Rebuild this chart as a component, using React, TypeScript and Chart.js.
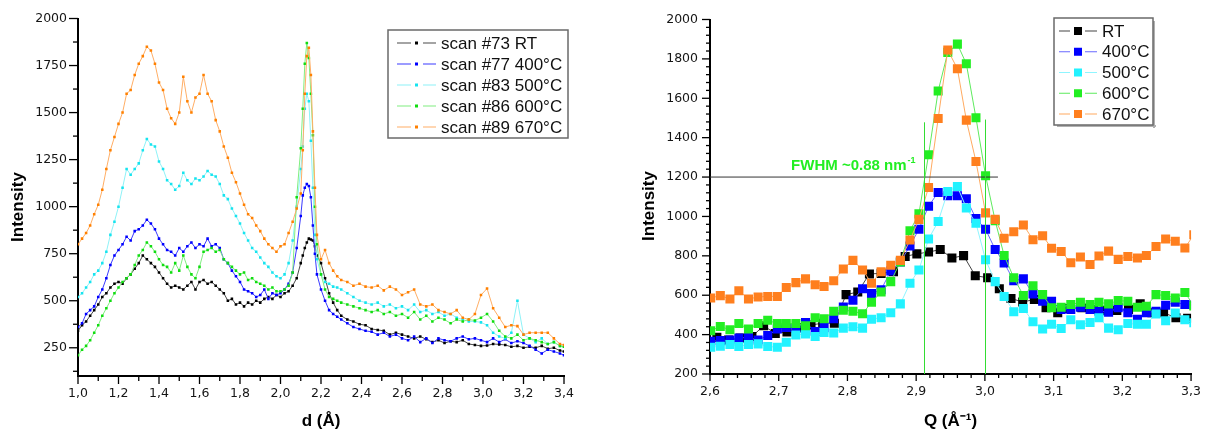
import React, { useEffect, useRef } from 'react';
import { Chart, registerables } from 'chart.js';

Chart.register(...registerables);

// ---------------- Left panel: intensity vs d (Å) ----------------
const D_GRID = [
  1.00, 1.02, 1.04, 1.06, 1.08, 1.10, 1.12, 1.14, 1.16, 1.18, 1.20, 1.22, 1.24, 1.26, 1.28, 1.30, 1.32, 1.34, 1.36, 1.38,
  1.40, 1.42, 1.44, 1.46, 1.48, 1.50, 1.52, 1.54, 1.56, 1.58, 1.60, 1.62, 1.64, 1.66, 1.68, 1.70, 1.72, 1.74, 1.76, 1.78,
  1.80, 1.82, 1.84, 1.86, 1.88, 1.90, 1.92, 1.94, 1.96, 1.98, 2.00,
  2.02, 2.04, 2.06, 2.08, 2.10, 2.11, 2.12, 2.13, 2.14, 2.15, 2.16, 2.17, 2.18, 2.20, 2.22, 2.24, 2.26, 2.28, 2.30,
  2.33, 2.36, 2.39, 2.42, 2.45, 2.48, 2.51, 2.54, 2.57, 2.60, 2.63, 2.66, 2.69, 2.72, 2.75, 2.78, 2.81, 2.84, 2.87, 2.90,
  2.93, 2.96, 2.99, 3.02, 3.05, 3.08, 3.11, 3.14, 3.17, 3.20, 3.23, 3.26, 3.29, 3.32, 3.35, 3.38, 3.40,
];

const SCAN73_RT = [
  340, 370, 390, 420, 450, 480, 520, 540, 570, 590, 600, 590, 620, 640, 670, 700, 740, 720, 700, 680,
  650, 620, 590, 570, 580, 570, 560, 580, 600, 560, 600, 610, 590, 600, 580, 560, 540, 500, 510, 480,
  490, 470, 490, 480, 500, 490, 510, 520, 510, 530, 520,
  540, 550, 580, 620, 700, 740, 780, 810, 830, 825, 820, 790, 740, 700, 620, 540, 490, 450, 420,
  400, 390, 375, 370, 350, 345, 340, 320, 330, 320, 310, 300, 310, 295, 280, 290, 275, 285, 280, 290,
  270, 265, 260, 262, 270, 268, 265, 255, 260, 250, 255, 250, 260, 245, 250, 235, 230,
];
const SCAN77_400 = [
  360, 380, 430, 450, 470, 520, 560, 620, 690, 740, 770, 800, 840, 820, 870, 880, 900, 930, 910, 880,
  830, 800, 770, 760, 740, 780, 760, 790, 810, 780, 800, 790, 830, 790, 800, 780, 720, 700, 660, 630,
  600, 560, 550, 540, 520, 530, 560, 510, 540, 530, 540,
  560, 590, 650, 780, 950, 1060, 1100, 1120, 1110, 1050, 900, 750, 640, 560, 500, 450, 430, 415, 400,
  380, 360, 350, 340, 335, 320, 330, 310, 320, 300, 290, 310, 280, 300, 275, 300, 290, 285, 300, 310,
  295, 300, 290, 280, 300, 280, 295, 275, 285, 275, 260, 240, 220, 240, 230, 220, 210,
];
const SCAN83_500 = [
  520, 540, 570, 600, 640, 660, 700, 760, 850, 920, 1000, 1100, 1200, 1170, 1200, 1230, 1300, 1360, 1330, 1320,
  1240, 1200, 1140, 1120, 1090, 1110, 1180, 1140, 1120, 1150, 1140, 1160, 1190, 1170, 1160, 1120, 1060, 1040, 990, 950,
  910, 860, 820, 780, 760, 730, 700, 680, 650, 630, 620,
  640, 700, 820, 1000, 1200, 1320, 1520, 1600, 1560, 1350, 1100, 850, 720, 640, 600, 590, 575, 570, 560,
  540, 520, 500, 490, 480, 490, 470, 480, 460, 470, 450, 480, 440, 450, 430, 440, 420, 430, 410, 400,
  390, 390, 385, 370, 330, 310, 300, 330, 500, 320, 300, 280, 300, 270, 280, 260, 255,
];
const SCAN86_600 = [
  210, 240, 260, 290, 330, 370, 420, 460, 500, 540, 570, 600, 620, 640, 690, 740, 770, 810, 790, 760,
  720, 690, 680, 650, 700, 660, 740, 680, 640, 620, 680, 760, 770, 780, 760, 770, 720, 700, 680, 660,
  640, 650, 610, 620, 600, 590, 580, 560, 570, 550, 550,
  560, 580, 650, 1050, 1310, 1520, 1760, 1870, 1790, 1600, 1380, 1000, 800, 640, 560, 520, 510, 500, 490,
  480, 470, 460, 450, 440, 450, 430, 440, 420, 430, 410, 440, 400, 420, 390, 410, 400, 380, 400, 390,
  400, 395, 410, 430, 390, 340, 310, 300, 320, 290, 300, 290, 280, 270, 280, 260, 255,
];
const SCAN89_670 = [
  800, 830, 860, 900, 960, 1010, 1090, 1200, 1300, 1370, 1440, 1500, 1600, 1620, 1700, 1760, 1800, 1850, 1830, 1760,
  1660, 1620, 1520, 1470, 1440, 1500, 1690, 1560, 1500, 1580, 1600, 1700, 1600, 1560, 1460, 1400, 1320, 1260, 1180, 1130,
  1070, 1010, 960, 940, 900, 870, 830, 800, 780, 760, 790,
  800, 860, 920, 990, 1070, 1300, 1600, 1800, 1845, 1700, 1400, 1100, 850, 720, 770, 700, 660, 630, 610,
  600, 580, 590, 575, 570, 580, 555, 575, 560, 530, 545, 560, 480, 470, 480, 450, 440, 430, 450, 410,
  400, 430, 530, 565, 460, 410, 360, 370, 365, 320, 330, 330, 330, 330, 300, 270, 265,
];

// ---------------- Right panel: intensity vs Q (Å^-1) ----------------
const Q_RT = [
  2.610, 2.627, 2.644, 2.661, 2.678, 2.695, 2.712, 2.730, 2.747, 2.764, 2.781, 2.798, 2.815, 2.832, 2.849, 2.867, 2.884,
  2.901, 2.918, 2.935, 2.952, 2.969, 2.986, 3.004, 3.021, 3.038, 3.055, 3.072, 3.089, 3.106, 3.123, 3.141, 3.158,
  3.175, 3.192, 3.209, 3.226, 3.243, 3.260, 3.278, 3.295,
];
const RT_Q = [
  386, 373, 383, 390, 445, 406, 414, 435, 449, 458, 458, 603, 616, 708, 711, 719, 797,
  810, 819, 832, 789, 801, 699, 689, 633, 583, 566, 578, 536, 511, 533, 536, 528,
  523, 523, 528, 556, 511, 511, 486, 483,
];
const Q_HT = [
  2.601, 2.615, 2.629, 2.642, 2.656, 2.670, 2.684, 2.698, 2.711, 2.725, 2.739, 2.753, 2.766, 2.780, 2.794, 2.808, 2.822,
  2.835, 2.849, 2.863, 2.877, 2.891, 2.904, 2.918, 2.932, 2.946, 2.960, 2.973, 2.987, 3.001, 3.015, 3.028, 3.042, 3.056,
  3.070, 3.084, 3.097, 3.111, 3.125, 3.139, 3.153, 3.166, 3.180, 3.194, 3.208, 3.222, 3.235, 3.249, 3.263, 3.277,
  3.291, 3.304,
];
const T400_Q = [
  366, 370, 373, 383, 386, 373, 395, 428, 436, 431, 461, 416, 436, 481, 540, 574, 633, 608, 628, 723,
  769, 850, 935, 1052, 1122, 1105, 1105, 1090, 990, 935, 832, 764, 674, 683, 606, 569, 569, 528, 528, 539,
  528, 519, 514, 536, 511, 478, 511, 519, 549, 564, 553, 550,
];
const T500_Q = [
  336, 341, 350, 340, 350, 353, 340, 336, 361, 398, 403, 390, 411, 408, 433, 440, 433, 478, 486, 511,
  556, 661, 728, 885, 974, 1127, 1152, 1043, 965, 780, 669, 594, 516, 533, 465, 428, 453, 431, 475, 450,
  461, 486, 433, 425, 456, 453, 453, 505, 470, 510, 475, 460,
];
const T600_Q = [
  420, 441, 425, 456, 428, 456, 473, 456, 456, 456, 445, 486, 481, 519, 524, 519, 506, 564, 616, 669,
  769, 927, 1013, 1313, 1637, 1833, 1875, 1775, 1501, 1207, 978, 802, 689, 599, 648, 603, 536, 539, 553, 564,
  553, 564, 556, 573, 569, 539, 544, 603, 599, 586, 614, 546,
];
const T670_Q = [
  586, 598, 581, 623, 581, 591, 594, 594, 639, 664, 683, 653, 644, 673, 733, 777, 728, 661, 719, 752,
  777, 880, 985, 1147, 1497, 1845, 1750, 1489, 1279, 1018, 985, 889, 922, 957, 882, 902, 839, 822, 765, 794,
  756, 799, 824, 782, 797, 789, 802, 847, 885, 874, 840, 907,
];

// FWHM annotation values
const FWHM_LEVEL = 1200;
const FWHM_LINE_END = 3.019;
const FWHM_MARKS = [
  [2.912, 1478],
  [3.0, 1492],
];
const FWHM_TEXT_POS = [2.718, 1238];

// ---------------- Ticks & labels ----------------
const LEFT_X_TICKS = [1.0, 1.2, 1.4, 1.6, 1.8, 2.0, 2.2, 2.4, 2.6, 2.8, 3.0, 3.2, 3.4];
const LEFT_Y_TICKS = [250, 500, 750, 1000, 1250, 1500, 1750, 2000];
const RIGHT_X_TICKS = [2.6, 2.7, 2.8, 2.9, 3.0, 3.1, 3.2, 3.3];
const RIGHT_Y_TICKS = [200, 400, 600, 800, 1000, 1200, 1400, 1600, 1800, 2000];

const LEFT_LABELS = ['scan #73 RT', 'scan #77 400°C', 'scan #83 500°C', 'scan #86 600°C', 'scan #89 670°C'];
const RIGHT_LABELS = ['RT', '400°C', '500°C', '600°C', '670°C'];

const L_MARKER = ['#000000', '#0000ff', '#16e4ef', '#10dd10', '#ff8000'];
const L_LINE = ['#4a4a4a', '#3a3aff', '#8ef2f7', '#80ee80', '#ffae66'];
const R_MARKER = ['#000000', '#0000ff', '#22f2ff', '#22ee22', '#ff7f1e'];
const R_LINE = ['#444444', '#6a6aff', '#8ff5ff', '#5eea5e', '#ffaa60'];

const TICK_FONT = { family: '"DejaVu Sans", sans-serif', size: 12.5 };
const TITLE_FONT = '"Liberation Sans", Arial, sans-serif';

const fmtComma = (v: number) => Number(v).toFixed(1).replace('.', ',');

type TickSpec = { start: number; step: number; count: number; every: number; majorLen: number; minorLen: number };

function makeDecor(cfg: any) {
  return {
    id: 'decor',
    afterDatasetsDraw(chart: any) {
      if (!cfg.fwhm) return;
      const { ctx, scales } = chart;
      const x = scales.x;
      const y = scales.y;
      ctx.save();
      const yp = y.getPixelForValue(FWHM_LEVEL);
      ctx.strokeStyle = '#333333';
      ctx.lineWidth = 1;
      ctx.beginPath();
      ctx.moveTo(x.getPixelForValue(2.6), yp);
      ctx.lineTo(x.getPixelForValue(FWHM_LINE_END), yp);
      ctx.stroke();
      ctx.strokeStyle = '#33dd33';
      FWHM_MARKS.forEach(([q, top]) => {
        const xp = Math.round(x.getPixelForValue(q)) + 0.5;
        ctx.beginPath();
        ctx.moveTo(xp, y.getPixelForValue(200));
        ctx.lineTo(xp, y.getPixelForValue(top));
        ctx.stroke();
      });
      const tx = x.getPixelForValue(FWHM_TEXT_POS[0]);
      const ty = y.getPixelForValue(FWHM_TEXT_POS[1]);
      ctx.fillStyle = '#22ee22';
      ctx.font = `bold 15px ${TITLE_FONT}`;
      ctx.textBaseline = 'alphabetic';
      ctx.textAlign = 'left';
      const main = 'FWHM ~0.88 nm';
      ctx.fillText(main, tx, ty);
      const w = ctx.measureText(main).width;
      ctx.font = `bold 9px ${TITLE_FONT}`;
      ctx.fillText('-1', tx + w + 1, ty - 7);
      ctx.restore();
    },
    afterDraw(chart: any) {
      const { ctx, chartArea, scales } = chart;
      const x = scales.x;
      const y = scales.y;
      ctx.save();
      // tick marks
      ctx.strokeStyle = '#000';
      ctx.lineWidth = 1.3;
      const tx: TickSpec = cfg.xTicks;
      for (let k = 0; k <= tx.count; k++) {
        const v = tx.start + k * tx.step;
        const p = x.getPixelForValue(v);
        const len = k % tx.every === 0 ? tx.majorLen : tx.minorLen;
        ctx.beginPath();
        ctx.moveTo(p, chartArea.bottom);
        ctx.lineTo(p, chartArea.bottom + len);
        ctx.stroke();
      }
      const ty: TickSpec = cfg.yTicks;
      for (let k = 0; k <= ty.count; k++) {
        const v = ty.start + k * ty.step;
        const p = y.getPixelForValue(v);
        const len = k % ty.every === ty.majorOffset ? ty.majorLen : ty.minorLen;
        ctx.beginPath();
        ctx.moveTo(chartArea.left, p);
        ctx.lineTo(chartArea.left - len, p);
        ctx.stroke();
      }
      // y title
      ctx.fillStyle = '#000';
      ctx.font = `bold 17px ${TITLE_FONT}`;
      ctx.textAlign = 'center';
      ctx.textBaseline = 'middle';
      ctx.translate(cfg.yTitle.x, cfg.yTitle.y);
      ctx.rotate(-Math.PI / 2);
      ctx.fillText('Intensity', 0, 0);
      ctx.setTransform(1, 0, 0, 1, 0, 0);
      // legend
      const L = cfg.legend;
      if (L.shadow) {
        ctx.fillStyle = '#b0b0b0';
        ctx.fillRect(L.x + 3, L.y + L.h, L.w, 2);
        ctx.fillRect(L.x + L.w, L.y + 3, 2, L.h);
      }
      ctx.fillStyle = '#fff';
      ctx.fillRect(L.x, L.y, L.w, L.h);
      ctx.strokeStyle = '#6a6a6a';
      ctx.lineWidth = 1.5;
      ctx.strokeRect(L.x, L.y, L.w, L.h);
      ctx.font = `17px ${TITLE_FONT}`;
      ctx.textAlign = 'left';
      ctx.textBaseline = 'middle';
      L.labels.forEach((label: string, i: number) => {
        const cy = L.y + L.first + i * L.rowH;
        ctx.strokeStyle = L.lineColors[i];
        ctx.lineWidth = 1.2;
        ctx.beginPath();
        ctx.moveTo(L.s1[0], cy);
        ctx.lineTo(L.s1[1], cy);
        ctx.moveTo(L.s2[0], cy);
        ctx.lineTo(L.s2[1], cy);
        ctx.stroke();
        ctx.fillStyle = L.markerColors[i];
        ctx.fillRect(L.mx - L.ms / 2, cy - L.ms / 2, L.ms, L.ms);
        ctx.fillStyle = '#111';
        ctx.fillText(label, L.tx, cy + 1);
      });
      ctx.restore();
    },
  };
}

function makeDataset(xs: number[], ys: number[], i: number, markers: string[], lines: string[], radius: number, label: string) {
  return {
    label,
    data: xs.map((xv, k) => ({ x: xv, y: ys[k] })),
    showLine: true,
    borderColor: lines[i],
    borderWidth: 1,
    backgroundColor: markers[i],
    pointBackgroundColor: markers[i],
    pointBorderWidth: 0,
    pointStyle: 'rect',
    pointRadius: radius,
    pointHoverRadius: radius,
    tension: 0,
    clip: 0,
    order: 5 - i,
  };
}

function axisCommon(ticks: number[], fmt: (v: number) => string, padding: number) {
  return {
    type: 'linear',
    grid: { display: false, drawTicks: false },
    border: { display: true, color: '#000', width: 2 },
    afterBuildTicks: (scale: any) => {
      scale.ticks = ticks.map((v) => ({ value: v }));
    },
    ticks: {
      autoSkip: false,
      maxRotation: 0,
      minRotation: 0,
      padding,
      color: '#151515',
      font: TICK_FONT,
      callback: (v: any) => fmt(Number(v)),
    },
  };
}

function leftConfig(): any {
  const series = [SCAN73_RT, SCAN77_400, SCAN83_500, SCAN86_600, SCAN89_670];
  return {
    type: 'scatter',
    data: {
      datasets: series.map((s, i) => makeDataset(D_GRID, s, i, L_MARKER, L_LINE, 1.8, LEFT_LABELS[i])),
    },
    options: {
      responsive: false,
      animation: false,
      devicePixelRatio: 1,
      layout: { padding: { top: 13.5, right: 41, left: 0, bottom: 0 } },
      plugins: { legend: { display: false }, tooltip: { enabled: false } },
      events: [],
      scales: {
        x: {
          ...axisCommon(LEFT_X_TICKS, fmtComma, 10),
          position: 'bottom',
          min: 1.0,
          max: 3.4,
          afterFit: (s: any) => { s.height = 62; },
          title: {
            display: true,
            text: 'd (Å)',
            color: '#000',
            font: { family: TITLE_FONT, size: 17, weight: 'bold' },
            padding: { top: 0, bottom: 6 },
          },
        },
        y: {
          ...axisCommon(LEFT_Y_TICKS, (v) => String(Math.round(v)), 11),
          position: 'left',
          min: 100,
          max: 2000,
          afterFit: (s: any) => { s.width = 78; },
        },
      },
    },
    plugins: [
      makeDecor({
        xTicks: { start: 1.0, step: 0.1, count: 24, every: 2, majorLen: 8, minorLen: 5 },
        yTicks: { start: 125, step: 125, count: 15, every: 2, majorOffset: 1, majorLen: 9, minorLen: 5 },
        yTitle: { x: 18.5, y: 207 },
        legend: {
          x: 388, y: 30, w: 180, h: 108, first: 13, rowH: 21,
          s1: [397, 411], s2: [423, 436], mx: 416.5, ms: 3, tx: 441,
          labels: LEFT_LABELS, lineColors: L_LINE, markerColors: L_MARKER, shadow: false,
        },
      }),
    ],
  };
}

function rightConfig(): any {
  const xs = [Q_RT, Q_HT, Q_HT, Q_HT, Q_HT];
  const series = [RT_Q, T400_Q, T500_Q, T600_Q, T670_Q];
  return {
    type: 'scatter',
    data: {
      datasets: series.map((s, i) => makeDataset(xs[i], s, i, R_MARKER, R_LINE, 6.4, RIGHT_LABELS[i])),
    },
    options: {
      responsive: false,
      animation: false,
      devicePixelRatio: 1,
      layout: { padding: { top: 13.3, right: 15, left: 0, bottom: 0 } },
      plugins: { legend: { display: false }, tooltip: { enabled: false } },
      events: [],
      scales: {
        x: {
          ...axisCommon(RIGHT_X_TICKS, fmtComma, 10),
          position: 'bottom',
          min: 2.6,
          max: 3.3,
          afterFit: (s: any) => { s.height = 64; },
          title: {
            display: true,
            text: 'Q (Å⁻¹)',
            color: '#000',
            font: { family: TITLE_FONT, size: 17, weight: 'bold' },
            padding: { top: 0, bottom: 6 },
          },
        },
        y: {
          ...axisCommon(RIGHT_Y_TICKS, (v) => String(Math.round(v)), 12),
          position: 'left',
          min: 200,
          max: 2000,
          afterFit: (s: any) => { s.width = 105; },
        },
      },
    },
    plugins: [
      makeDecor({
        fwhm: true,
        xTicks: { start: 2.6, step: 0.02, count: 35, every: 5, majorLen: 7, minorLen: 4 },
        yTicks: { start: 200, step: 40, count: 45, every: 5, majorOffset: 0, majorLen: 8, minorLen: 4 },
        yTitle: { x: 44, y: 206 },
        legend: {
          x: 449, y: 18, w: 99, h: 107, first: 13, rowH: 20.75,
          s1: [454, 465], s2: [480, 492], mx: 473, ms: 8, tx: 497,
          labels: RIGHT_LABELS, lineColors: R_LINE, markerColors: R_MARKER, shadow: true,
        },
      }),
    ],
  };
}

export default function App() {
  const leftRef = useRef<HTMLCanvasElement>(null);
  const rightRef = useRef<HTMLCanvasElement>(null);

  useEffect(() => {
    const c1 = new Chart(leftRef.current as HTMLCanvasElement, leftConfig());
    const c2 = new Chart(rightRef.current as HTMLCanvasElement, rightConfig());
    return () => {
      c1.destroy();
      c2.destroy();
    };
  }, []);

  return (
    <div style={{ position: 'absolute', left: 0, top: 0, width: 1211, height: 438, background: '#fff' }}>
      <canvas
        ref={leftRef}
        width={605}
        height={438}
        style={{ position: 'absolute', left: 0, top: 0, width: 605, height: 438 }}
      />
      <canvas
        ref={rightRef}
        width={606}
        height={438}
        style={{ position: 'absolute', left: 605, top: 0, width: 606, height: 438 }}
      />
    </div>
  );
}
